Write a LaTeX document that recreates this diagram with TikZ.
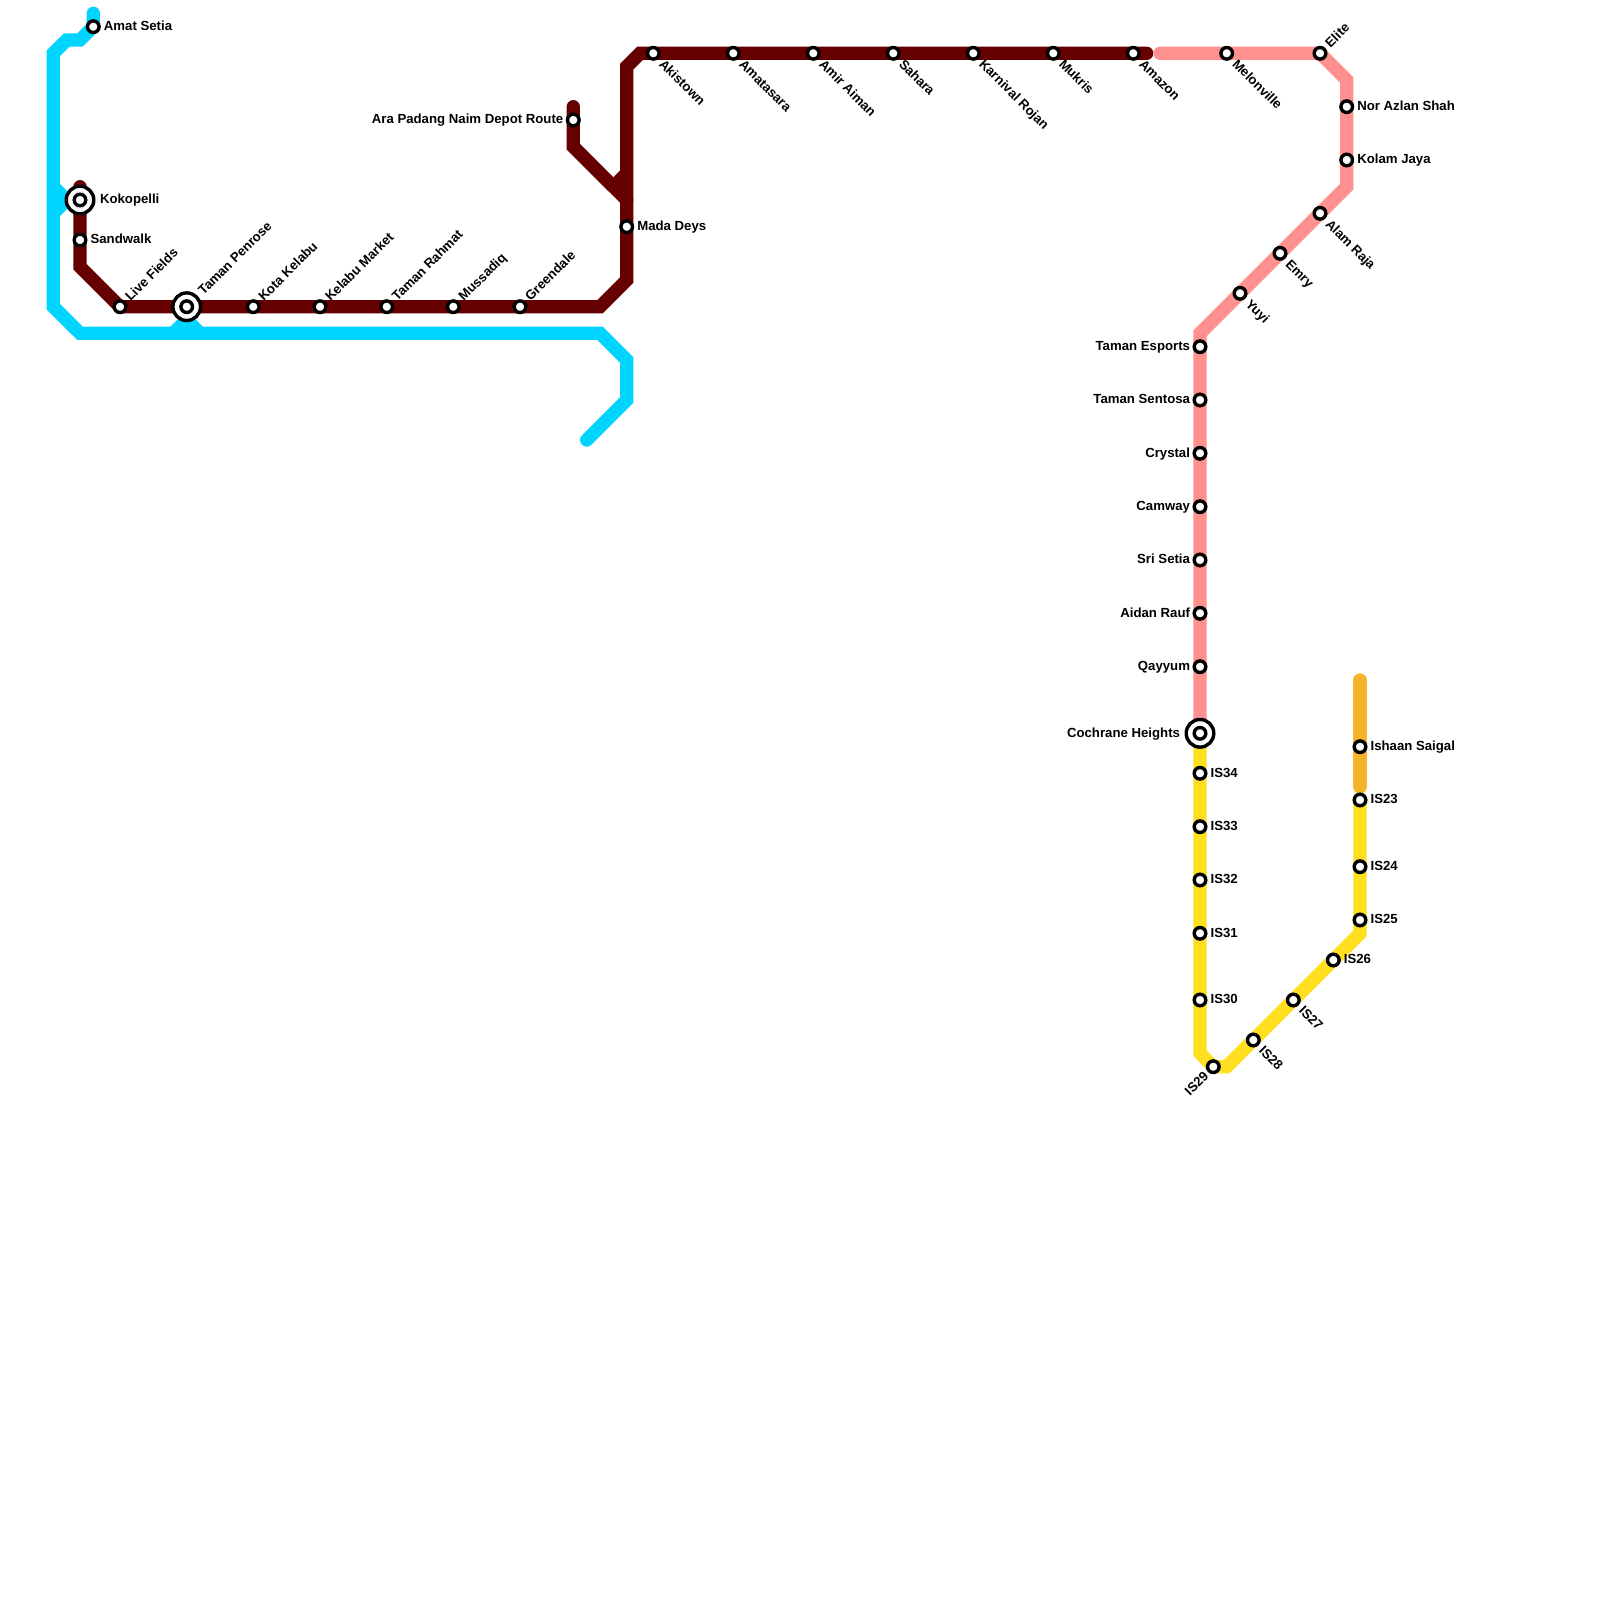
\documentclass[tikz,border=0pt]{standalone}
\usepackage{fontspec}
\setmainfont{Liberation Sans}
\usetikzlibrary{backgrounds}
\definecolor{cyanl}{HTML}{00D4FF}
\definecolor{redl}{HTML}{660000}
\definecolor{pinkl}{HTML}{FF9090}
\definecolor{yell}{HTML}{FFE020}
\definecolor{orgl}{HTML}{F7B32B}
\tikzset{
  x=0.5pt,y=-0.5pt,
  metro/.style={line width=6.67pt,line cap=round,line join=miter},
  stop/.style={circle,draw=black,fill=white,line width=1.7pt,inner sep=0pt,minimum size=5.8pt,outer sep=0pt},
  hub/.style={circle,draw=black,fill=white,line width=1.7pt,inner sep=0pt,minimum size=13.8pt,outer sep=0pt},
  lbl/.style={font=\bfseries\fontsize{6.6pt}{7pt}\selectfont,inner sep=0pt,outer sep=0pt,text=black},
  lr/.style={lbl,anchor=base west,xshift=5.3pt,yshift=-1.85pt},
  lrr/.style={lbl,anchor=base west,xshift=10pt,yshift=-1.85pt},
  ll/.style={lbl,anchor=base east,xshift=-5pt,yshift=-1.85pt},
  lll/.style={lbl,anchor=base east,xshift=-10pt,yshift=-1.85pt},
  lu/.style={lbl,anchor=base west,rotate=45,xshift=5.5pt,yshift=-2pt},
  luu/.style={lbl,anchor=base west,rotate=45,xshift=9.9pt,yshift=-2.15pt},
  ld/.style={lbl,anchor=base west,rotate=-45,xshift=5.9pt,yshift=-2.4pt},
  ldl/.style={lbl,anchor=base east,rotate=45,xshift=-5pt,yshift=-2.2pt},
}
\newcommand{\stn}[5]{% name, x, y, label style, text
  \node[stop] (#1) at (#2,#3) {};
  \node[#4] (#1-t) at (#2,#3) {#5};
}
\newcommand{\hubstn}[5]{%
  \node[hub] (#1-o) at (#2,#3) {};
  \node[stop] (#1) at (#2,#3) {};
  \node[#4] (#1-t) at (#2,#3) {#5};
}
\begin{document}
\begin{tikzpicture}
\useasboundingbox (0,0) rectangle (1600,1600);
% stations
\stn{amat}{93.3}{26.7}{lr}{Amat Setia}
\hubstn{koko}{80}{200}{lrr}{Kokopelli}
\stn{sand}{80}{240}{lr}{Sandwalk}
\stn{live}{120}{306.7}{lu}{Live Fields}
\hubstn{penr}{186.7}{306.7}{luu}{Taman Penrose}
\stn{kota}{253.3}{306.7}{lu}{Kota Kelabu}
\stn{kmkt}{320}{306.7}{lu}{Kelabu Market}
\stn{rahm}{386.7}{306.7}{lu}{Taman Rahmat}
\stn{muss}{453.3}{306.7}{lu}{Mussadiq}
\stn{gree}{520}{306.7}{lu}{Greendale}
\stn{mada}{626.7}{226.7}{lr}{Mada Deys}
\stn{arap}{573.3}{120}{ll}{Ara Padang Naim Depot Route}
\stn{akis}{653.3}{53.3}{ld}{Akistown}
\stn{amat2}{733.3}{53.3}{ld}{Amatasara}
\stn{amir}{813.3}{53.3}{ld}{Amir Aiman}
\stn{saha}{893.3}{53.3}{ld}{Sahara}
\stn{karn}{973.3}{53.3}{ld}{Karnival Rojan}
\stn{mukr}{1053.3}{53.3}{ld}{Mukris}
\stn{amaz}{1133.3}{53.3}{ld}{Amazon}
\stn{melo}{1226.7}{53.3}{ld}{Melonville}
\stn{elit}{1320}{53.3}{lu}{Elite}
\stn{nora}{1346.7}{106.7}{lr}{Nor Azlan Shah}
\stn{kola}{1346.7}{160}{lr}{Kolam Jaya}
\stn{alam}{1320}{213.3}{ld}{Alam Raja}
\stn{emry}{1280}{253.3}{ld}{Emry}
\stn{yuyi}{1240}{293.3}{ld}{Yuyi}
\stn{esp}{1200}{346.7}{ll}{Taman Esports}
\stn{sent}{1200}{400}{ll}{Taman Sentosa}
\stn{crys}{1200}{453.3}{ll}{Crystal}
\stn{camw}{1200}{506.7}{ll}{Camway}
\stn{sris}{1200}{560}{ll}{Sri Setia}
\stn{aida}{1200}{613.3}{ll}{Aidan Rauf}
\stn{qayy}{1200}{666.7}{ll}{Qayyum}
\hubstn{coch}{1200}{733.3}{lll}{Cochrane Heights}
\stn{isa}{1200}{773.3}{lr}{IS34}
\stn{isb}{1200}{826.7}{lr}{IS33}
\stn{isc}{1200}{880}{lr}{IS32}
\stn{isd}{1200}{933.3}{lr}{IS31}
\stn{ise}{1200}{1000}{lr}{IS30}
\stn{isf}{1213.3}{1066.7}{ldl}{IS29}
\stn{isg}{1253.3}{1040}{ld}{IS28}
\stn{ish}{1293.3}{1000}{ld}{IS27}
\stn{isi}{1333.3}{960}{lr}{IS26}
\stn{isj}{1360}{920}{lr}{IS25}
\stn{isk}{1360}{866.7}{lr}{IS24}
\stn{isl}{1360}{800}{lr}{IS23}
\stn{isha}{1360}{746.7}{lr}{Ishaan Saigal}
% bends and free ends
\coordinate (c0) at (93.3,13.3);
\coordinate (c1) at (80,40);
\coordinate (c2) at (66.7,40);
\coordinate (c3) at (53.3,53.3);
\coordinate (c4) at (53.3,306.7);
\coordinate (c5) at (80,333.3);
\coordinate (c6) at (600,333.3);
\coordinate (c7) at (626.7,360);
\coordinate (c8) at (626.7,400);
\coordinate (c9) at (586.7,440);
\coordinate (k1) at (53.3,186.7);
\coordinate (k2) at (66.7,200);
\coordinate (k3) at (53.3,213.3);
\coordinate (p1) at (173.3,333.3);
\coordinate (p2) at (186.7,320);
\coordinate (p3) at (200,333.3);
\coordinate (r0) at (80,186.7);
\coordinate (r1) at (80,266.7);
\coordinate (r2) at (600,306.7);
\coordinate (r3) at (626.7,280);
\coordinate (r4) at (626.7,66.7);
\coordinate (r5) at (640,53.3);
\coordinate (r6) at (1146.7,53.3);
\coordinate (b0) at (573.3,106.7);
\coordinate (b1) at (573.3,146.7);
\coordinate (b2) at (626.7,200);
\coordinate (b3) at (613.3,186.7);
\coordinate (b4) at (626.7,173.3);
\coordinate (q0) at (1160,53.3);
\coordinate (q1) at (1346.7,80);
\coordinate (q2) at (1346.7,186.7);
\coordinate (q3) at (1200,333.3);
\coordinate (y1) at (1200,1053.3);
\coordinate (y2) at (1226.7,1066.7);
\coordinate (y3) at (1360,933.3);
\coordinate (o0) at (1360,680);
\coordinate (o1) at (1360,786.7);
\begin{scope}[on background layer]
\fill[white] (0,0) rectangle (1600,1600);
\draw[metro,cyanl] (c0) -- (amat.center) -- (c1) -- (c2) -- (c3) -- (c4) -- (c5) -- (c6) -- (c7) -- (c8) -- (c9);
\draw[metro,cyanl,line cap=butt] (k1) -- (k2) -- (koko.center) -- (k2) -- (k3);
\draw[metro,cyanl,line cap=butt] (p1) -- (p2) -- (p3);
\draw[metro,redl] (r0) -- (koko.center) -- (sand.center) -- (r1) -- (live.center) -- (penr.center) -- (kota.center) -- (kmkt.center) -- (rahm.center) -- (muss.center) -- (gree.center) -- (r2) -- (r3) -- (mada.center) -- (r4) -- (r5) -- (akis.center) -- (r6);
\draw[metro,redl] (b0) -- (arap.center) -- (b1) -- (b2);
\draw[metro,redl,line cap=butt] (b3) -- (b4);
\draw[metro,yell] (coch.center) -- (y1) -- (isf.center) -- (y2) -- (isi.center) -- (y3) -- (isj.center) -- (isl.center);
\draw[metro,pinkl] (q0) -- (melo.center) -- (elit.center) -- (q1) -- (q2) -- (alam.center) -- (q3) -- (esp.center) -- (coch.center);
\draw[metro,orgl] (o0) -- (isha.center) -- (o1);
\end{scope}
\end{tikzpicture}
\end{document}
